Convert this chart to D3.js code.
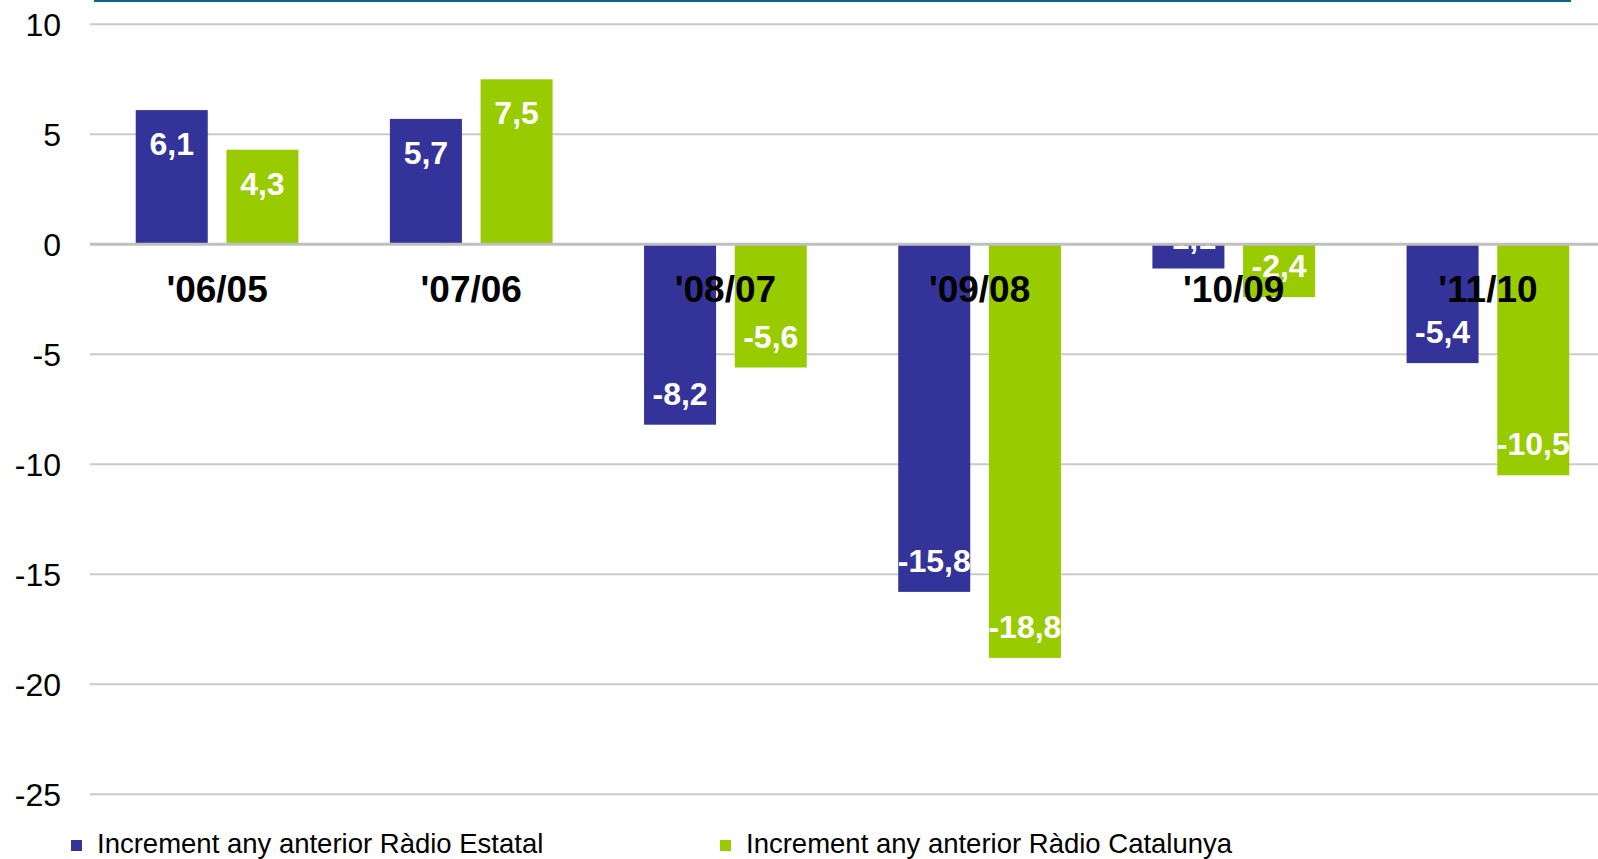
<!DOCTYPE html>
<meta charset="utf-8">
<head>
	<title>Increment any anterior</title>
	<style>
		body { margin:0px; background:#fff; }
		text { font-family: 'Liberation Sans', Arial, sans-serif; }
	</style>
</head>
<body>
	<svg id="drawPanel" width="1598" height="859"></svg>

	<script src="https://cdn.jsdelivr.net/npm/d3@7"></script>
	<script>
		// data
		var categories = ["'06/05", "'07/06", "'08/07", "'09/08", "'10/09", "'11/10"];
		var seriesNames = ["Increment any anterior Ràdio Estatal", "Increment any anterior Ràdio Catalunya"];
		var estatal = [6.1, 5.7, -8.2, -15.8, -1.1, -5.4];
		var catalunya = [4.3, 7.5, -5.6, -18.8, -2.4, -10.5];
		var yTicks = [10, 5, 0, -5, -10, -15, -20, -25];
		var colors = ["#343399", "#99cc00"];

		var svg = d3.select("#drawPanel");

		var x = d3.scaleBand().domain(categories).range([90, 1615]);
		var bw = x.bandwidth();
		var xs = d3.scaleBand().domain([0, 1])
			.range([bw / 2 - 81.35, bw / 2 + 81.35])
			.paddingInner(0.206);
		var y = d3.scaleLinear().domain([-25, 10]).range([794.3, 24.3]);

		var fmt = function(v) { return v.toFixed(1).replace(".", ","); };

		// top rule
		svg.append("line")
			.attr("x1", 94).attr("x2", 1571)
			.attr("y1", 1).attr("y2", 1)
			.attr("stroke", "#0a6496").attr("stroke-width", 2);

		// gridlines
		svg.append("g").selectAll("line")
			.data(yTicks.filter(function(d) { return d !== 0; }))
			.enter().append("line")
			.attr("x1", 90).attr("x2", 1598)
			.attr("y1", function(d) { return y(d); })
			.attr("y2", function(d) { return y(d); })
			.attr("stroke", "#cacaca").attr("stroke-width", 2);

		// y tick labels
		svg.append("g").selectAll("text")
			.data(yTicks)
			.enter().append("text")
			.attr("x", 61)
			.attr("y", function(d) { return y(d); })
			.attr("dy", "0.36em")
			.attr("text-anchor", "end")
			.style("font-size", "32px")
			.style("fill", "#000")
			.text(function(d) { return d; });

		var rows = [];
		categories.forEach(function(c, i) {
			rows.push({cat: c, s: 0, v: estatal[i]});
			rows.push({cat: c, s: 1, v: catalunya[i]});
		});

		// bars
		svg.append("g").selectAll("rect")
			.data(rows)
			.enter().append("rect")
			.attr("x", function(d) { return x(d.cat) + xs(d.s); })
			.attr("width", xs.bandwidth())
			.attr("y", function(d) { return Math.min(y(d.v), y(0)); })
			.attr("height", function(d) { return Math.abs(y(d.v) - y(0)); })
			.attr("fill", function(d) { return colors[d.s]; });

		// value labels
		svg.append("g").selectAll("text")
			.data(rows)
			.enter().append("text")
			.attr("x", function(d) { return x(d.cat) + xs(d.s) + xs.bandwidth() / 2; })
			.attr("y", function(d) { return d.v >= 0 ? y(d.v) + 45 : y(d.v) - 20; })
			.attr("text-anchor", "middle")
			.style("font-size", "32px")
			.style("font-weight", "bold")
			.style("fill", "#fff")
			.text(function(d) { return fmt(d.v); });

		// zero line
		svg.append("line")
			.attr("x1", 90).attr("x2", 1598)
			.attr("y1", y(0)).attr("y2", y(0))
			.attr("stroke", "#bfbfbf").attr("stroke-width", 3);

		// category labels
		svg.append("g").selectAll("text")
			.data(categories)
			.enter().append("text")
			.attr("x", function(d) { return x(d) + bw / 2; })
			.attr("y", 302)
			.attr("text-anchor", "middle")
			.style("font-size", "37px")
			.style("font-weight", "bold")
			.style("fill", "#000")
			.text(function(d) { return d; });

		// legend
		var legX = [71, 720];
		var leg = svg.append("g").selectAll("g")
			.data(seriesNames)
			.enter().append("g")
			.attr("transform", function(d, i) { return "translate(" + legX[i] + ",840)"; });

		leg.append("rect")
			.attr("width", 11).attr("height", 11)
			.attr("fill", function(d, i) { return colors[i]; });

		leg.append("text")
			.attr("x", 26)
			.attr("y", 13)
			.style("font-size", "27.5px")
			.style("fill", "#000")
			.text(function(d) { return d; });
	</script>
</body>
